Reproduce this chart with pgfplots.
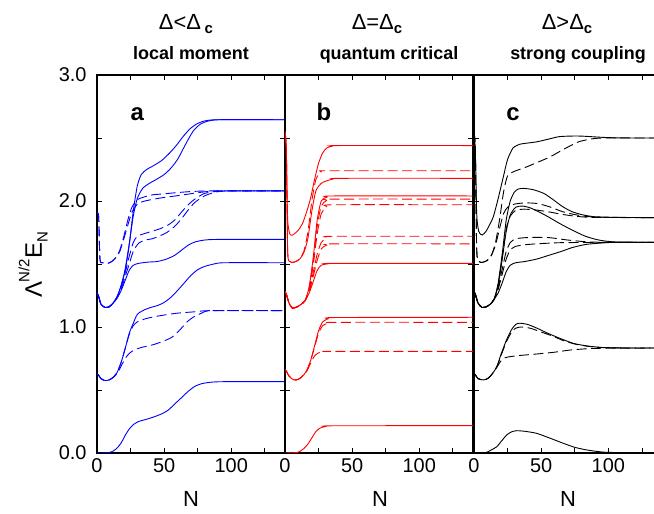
\documentclass[border=0pt]{standalone}
\usepackage{fontspec}
\setmainfont{Liberation Sans}
\usepackage{pgfplots}
\pgfplotsset{compat=1.18}
\begin{document}
\begin{tikzpicture}
\useasboundingbox (-97bp,-61bp) rectangle (557bp,453bp);
\pgfplotsset{
 panel/.style={scale only axis, height=378bp, ymin=0, ymax=3, xmin=0,
   ytick={0,0.5,1,1.5,2,2.5,3}, xtick={0,25,50,75,100,125}, xticklabels={0,,50,,100,},
   tick align=inside, major tick length=5bp, tick style={black, line width=0.8bp},
   axis line style={line width=1.2bp},
   xticklabel style={font=\fontsize{20}{24}\selectfont, yshift=-2bp},
   yticklabel style={font=\fontsize{20}{24}\selectfont, xshift=-7bp},
   every axis plot/.append style={line width=0.9bp, no marks, smooth, tension=0.4},
   anchor=south west,
 },
 dsh/.style={dash pattern=on 10bp off 4.5bp},
}
% ---------------- panel a ----------------
\begin{axis}[panel, width=188bp, xmax=140, at={(0bp,0bp)}, yticklabels={0.0,,1.0,,2.0,,3.0}]
% to 2.64
\addplot[blue] coordinates {(0,1.27)(1,1.25)(3,1.18)(6,1.155)(9,1.16)(12,1.19)(15,1.24)(18,1.33)(21,1.45)(24,1.65)(27,1.92)(30,2.12)(33,2.21)(37,2.25)(42,2.28)(48,2.32)(54,2.38)(59,2.44)(64,2.51)(69,2.57)(74,2.61)(80,2.635)(90,2.645)(140,2.645)};
\addplot[blue] coordinates {(0,1.27)(1,1.25)(3,1.18)(6,1.155)(9,1.16)(12,1.19)(15,1.24)(18,1.33)(21,1.46)(24,1.66)(27,1.88)(30,2.02)(34,2.10)(39,2.14)(44,2.17)(50,2.21)(55,2.26)(60,2.33)(64,2.41)(68,2.49)(72,2.56)(77,2.61)(83,2.635)(92,2.645)(140,2.645)};
% dashed slow to 2.08
\addplot[blue,dsh] coordinates {(0,1.27)(1,1.25)(3,1.18)(6,1.155)(9,1.16)(12,1.19)(15,1.24)(18,1.32)(21,1.43)(24,1.56)(27,1.67)(30,1.72)(35,1.74)(41,1.76)(47,1.78)(53,1.81)(58,1.85)(62,1.90)(67,1.96)(71,2.00)(75,2.03)(80,2.06)(88,2.075)(100,2.08)(140,2.08)};
\addplot[blue,dsh] coordinates {(0,1.27)(1,1.25)(3,1.18)(6,1.155)(9,1.16)(12,1.19)(15,1.23)(18,1.30)(21,1.40)(24,1.50)(27,1.60)(31,1.665)(36,1.69)(41,1.70)(46,1.72)(52,1.75)(58,1.80)(63,1.86)(68,1.93)(73,1.99)(80,2.04)(88,2.07)(98,2.08)(140,2.08)};
% solid to 1.69
\addplot[blue] coordinates {(0,1.27)(1,1.25)(3,1.18)(6,1.155)(9,1.16)(12,1.19)(15,1.23)(18,1.29)(21,1.37)(24,1.45)(27,1.49)(31,1.505)(38,1.515)(45,1.52)(52,1.54)(58,1.57)(63,1.61)(68,1.65)(73,1.675)(80,1.69)(90,1.695)(140,1.695)};
% dashed fast to 2.08
\addplot[blue,dsh] coordinates {(0,1.90)(1.2,1.88)(2.2,1.54)(4,1.51)(8,1.505)(11,1.52)(14,1.55)(17,1.61)(20,1.72)(23,1.85)(26,1.95)(30,2.01)(36,2.035)(42,2.05)(48,2.055)(58,2.065)(70,2.075)(85,2.08)(140,2.08)};
\addplot[blue,dsh] coordinates {(0,1.90)(1.2,1.88)(2.2,1.54)(4,1.51)(8,1.505)(11,1.52)(14,1.55)(17,1.60)(20,1.70)(23,1.81)(26,1.91)(30,1.975)(34,1.995)(40,2.01)(48,2.025)(55,2.035)(65,2.05)(78,2.07)(90,2.08)(140,2.08)};
% solid to 1.51
\addplot[blue] coordinates {(0,0.63)(1,0.62)(3,0.59)(6,0.575)(9,0.58)(12,0.60)(15,0.64)(18,0.72)(21,0.83)(24,0.95)(27,1.03)(30,1.10)(35,1.135)(40,1.155)(45,1.17)(50,1.195)(55,1.235)(60,1.29)(65,1.35)(70,1.41)(75,1.455)(80,1.48)(87,1.50)(95,1.51)(140,1.51)};
% dashed to 1.13
\addplot[blue,dsh] coordinates {(0,0.63)(1,0.62)(3,0.59)(6,0.575)(9,0.58)(12,0.60)(15,0.64)(18,0.72)(21,0.83)(24,0.94)(27,1.01)(30,1.04)(36,1.065)(42,1.08)(50,1.095)(60,1.11)(72,1.12)(85,1.13)(140,1.13)};
\addplot[blue,dsh] coordinates {(0,0.63)(1,0.62)(3,0.59)(6,0.575)(9,0.58)(12,0.60)(15,0.63)(18,0.69)(21,0.75)(24,0.79)(28,0.82)(34,0.84)(42,0.86)(50,0.89)(56,0.92)(62,0.98)(67,1.04)(72,1.08)(78,1.11)(86,1.13)(140,1.13)};
% from zero
\addplot[blue] coordinates {(0,0)(8,0.002)(12,0.015)(15,0.04)(18,0.08)(21,0.14)(24,0.19)(27,0.225)(31,0.25)(36,0.265)(42,0.285)(48,0.31)(53,0.34)(58,0.39)(63,0.44)(68,0.49)(73,0.53)(78,0.55)(85,0.562)(95,0.566)(140,0.566)};
\node[anchor=base, font=\bfseries\fontsize{24}{24}\selectfont] at (axis cs:30,2.64) {a};
\end{axis}
% ---------------- panel b ----------------
\begin{axis}[panel, width=188bp, xmax=140, at={(188bp,0bp)}, yticklabels={}]
\addplot[red] coordinates {(0,2.55)(1,2.4)(2,1.85)(4,1.73)(7,1.74)(10,1.77)(13,1.82)(16,1.91)(19,2.02)(22,2.17)(25,2.30)(28,2.38)(31,2.42)(35,2.435)(40,2.44)(140,2.44)};
\addplot[red,dsh] coordinates {(0,2.55)(1,2.4)(2,1.6)(3.5,1.52)(7,1.515)(11,1.54)(14,1.60)(17,1.75)(20,2.0)(23,2.17)(27,2.235)(32,2.24)(140,2.24)};
\addplot[red] coordinates {(0,2.55)(1,2.4)(2,1.6)(3.5,1.52)(7,1.515)(11,1.54)(14,1.59)(17,1.70)(20,1.92)(23,2.08)(27,2.14)(31,2.16)(36,2.175)(42,2.18)(140,2.18)};
\addplot[red] coordinates {(0,1.28)(1,1.26)(3,1.19)(5.5,1.15)(9,1.16)(12,1.18)(15,1.21)(18,1.32)(21,1.55)(24,1.85)(27,2.0)(31,2.03)(36,2.04)(140,2.04)};
\addplot[red,dsh] coordinates {(0,1.28)(1,1.26)(3,1.19)(5.5,1.15)(9,1.16)(12,1.18)(15,1.21)(18,1.31)(21,1.52)(24,1.80)(27,1.96)(31,2.005)(36,2.015)(140,2.015)};
\addplot[red,dsh] coordinates {(0,1.28)(1,1.26)(3,1.19)(5.5,1.15)(9,1.16)(12,1.18)(15,1.21)(18,1.30)(21,1.49)(24,1.74)(27,1.90)(31,1.955)(36,1.97)(140,1.97)};
\addplot[red,dsh] coordinates {(0,1.28)(1,1.26)(3,1.19)(5.5,1.15)(9,1.16)(12,1.18)(15,1.21)(18,1.29)(21,1.43)(24,1.58)(27,1.67)(31,1.71)(36,1.72)(140,1.72)};
\addplot[red,dsh] coordinates {(0,1.28)(1,1.26)(3,1.19)(5.5,1.15)(9,1.16)(12,1.18)(15,1.21)(18,1.28)(21,1.40)(24,1.53)(27,1.62)(31,1.65)(36,1.66)(140,1.66)};
\addplot[red] coordinates {(0,1.28)(1,1.26)(3,1.19)(5.5,1.15)(9,1.16)(12,1.18)(15,1.21)(18,1.27)(21,1.36)(24,1.45)(27,1.49)(31,1.50)(36,1.505)(140,1.505)};
\addplot[red] coordinates {(0,0.66)(1,0.65)(3,0.61)(6.5,0.58)(10,0.585)(13,0.61)(16,0.65)(19,0.73)(22,0.85)(25,0.97)(28,1.04)(32,1.065)(37,1.075)(140,1.077)};
\addplot[red,dsh] coordinates {(0,0.66)(1,0.65)(3,0.61)(6.5,0.58)(10,0.585)(13,0.61)(16,0.65)(19,0.73)(22,0.84)(25,0.95)(28,1.01)(32,1.03)(37,1.037)(140,1.037)};
\addplot[red,dsh] coordinates {(0,0.66)(1,0.65)(3,0.61)(6.5,0.58)(10,0.585)(13,0.61)(16,0.645)(19,0.71)(22,0.77)(25,0.795)(29,0.805)(35,0.807)(140,0.807)};
\addplot[red] coordinates {(0,0)(8,0.003)(11,0.012)(14,0.035)(17,0.07)(20,0.12)(23,0.17)(26,0.197)(30,0.21)(36,0.216)(140,0.217)};
\node[anchor=base, font=\bfseries\fontsize{24}{24}\selectfont] at (axis cs:29,2.64) {b};
\end{axis}
% ---------------- panel c ----------------
\begin{axis}[panel, width=180bp, xmax=134, at={(377bp,0bp)}, yticklabels={},
  axis y line*=left, axis x line*=box, xtick pos=both, ytick pos=left, tick align=inside]
\addplot[black] coordinates {(0,2.55)(1,2.4)(2,1.9)(3.5,1.76)(6,1.73)(9,1.76)(12,1.82)(14.4,1.875)(18,2.02)(21.8,2.19)(25,2.33)(29,2.42)(34,2.45)(40,2.46)(47,2.47)(55,2.49)(63,2.51)(71,2.515)(80,2.515)(96,2.505)(110,2.50)(134,2.50)};
\addplot[black,dsh] coordinates {(0,2.55)(1,2.4)(2,1.62)(3.5,1.52)(7,1.515)(10,1.53)(13,1.57)(16,1.67)(19,1.85)(22,2.07)(25,2.20)(30,2.235)(39,2.27)(48,2.31)(56.6,2.35)(65,2.40)(72,2.44)(78,2.47)(86,2.49)(96,2.50)(134,2.50)};
\addplot[black] coordinates {(0,1.28)(1,1.26)(3,1.19)(6,1.155)(9,1.16)(12,1.18)(15,1.22)(18,1.35)(21,1.58)(24,1.85)(27,2.0)(30,2.07)(33,2.095)(37,2.10)(44,2.09)(52,2.06)(59,2.01)(66,1.955)(73,1.915)(81,1.89)(90,1.875)(108,1.87)(134,1.868)};
\addplot[black,dsh] coordinates {(0,2.55)(1,2.4)(2,1.62)(3.5,1.52)(7,1.515)(10,1.53)(13,1.57)(16,1.65)(19,1.78)(22,1.90)(25,1.95)(30,1.975)(38,1.985)(47,1.98)(56,1.955)(66,1.915)(76,1.89)(86,1.875)(100,1.87)(134,1.868)};
\addplot[black,dsh] coordinates {(0,1.28)(1,1.26)(3,1.19)(6,1.155)(9,1.16)(12,1.18)(15,1.22)(18,1.33)(21,1.55)(24,1.78)(27,1.88)(31,1.925)(37,1.935)(45,1.93)(55,1.915)(65,1.895)(75,1.88)(88,1.87)(134,1.868)};
\addplot[black] coordinates {(0,1.28)(1,1.26)(3,1.19)(6,1.155)(9,1.16)(12,1.18)(15,1.22)(18,1.33)(21,1.54)(24,1.76)(27,1.89)(31,1.95)(36,1.96)(42,1.945)(49,1.91)(56,1.87)(64,1.82)(73,1.77)(83,1.72)(93,1.69)(105,1.675)(134,1.672)};
\addplot[black,dsh] coordinates {(0,1.28)(1,1.26)(3,1.19)(6,1.155)(9,1.16)(12,1.18)(15,1.22)(18,1.31)(21,1.46)(24,1.60)(27,1.67)(31,1.70)(40,1.71)(55,1.71)(70,1.69)(85,1.675)(100,1.672)(134,1.672)};
\addplot[black,dsh] coordinates {(0,1.28)(1,1.26)(3,1.19)(6,1.155)(9,1.16)(12,1.18)(15,1.22)(18,1.30)(21,1.42)(24,1.54)(27,1.61)(31,1.64)(40,1.655)(55,1.665)(70,1.67)(134,1.672)};
\addplot[black] coordinates {(0,1.28)(1,1.26)(3,1.19)(6,1.155)(9,1.16)(12,1.18)(15,1.22)(18,1.27)(21,1.35)(24,1.44)(27,1.49)(31,1.51)(38,1.52)(47,1.54)(56,1.57)(65,1.60)(73,1.63)(83,1.655)(93,1.665)(105,1.672)(134,1.672)};
\addplot[black] coordinates {(0,0.63)(1,0.62)(3,0.59)(7,0.58)(10,0.59)(13,0.62)(17,0.685)(20,0.78)(24.3,0.90)(28,0.98)(31,1.02)(34,1.03)(40,1.02)(47,0.99)(55,0.95)(64,0.91)(74,0.87)(84,0.85)(95,0.838)(110,0.834)(134,0.833)};
\addplot[black,dsh] coordinates {(0,0.63)(1,0.62)(3,0.59)(7,0.58)(10,0.59)(13,0.62)(17,0.685)(20,0.77)(24,0.88)(28,0.96)(31,0.99)(35,1.0)(42,0.99)(50,0.96)(58,0.93)(67,0.89)(77,0.86)(90,0.84)(105,0.834)(134,0.833)};
\addplot[black,dsh] coordinates {(0,0.63)(1,0.62)(3,0.59)(7,0.58)(10,0.59)(13,0.62)(17,0.68)(20,0.73)(23,0.755)(27,0.765)(35,0.775)(47,0.786)(60,0.80)(71.5,0.817)(85,0.828)(100,0.832)(134,0.833)};
\addplot[black] coordinates {(0,0)(7,0.0)(10,0.008)(13,0.025)(17,0.05)(20.5,0.095)(24.3,0.143)(28,0.168)(31.8,0.177)(38,0.172)(46.7,0.156)(56,0.12)(66.5,0.077)(75,0.045)(84,0.024)(92,0.012)(100,0.005)(134,0.0)};
\node[anchor=base, font=\bfseries\fontsize{24}{24}\selectfont] at (axis cs:29,2.64) {c};
\end{axis}
% ---------------- labels ----------------
\node[rotate=90, font=\fontsize{24}{28}\selectfont] at (-64bp,188bp) {Λ\raisebox{1.0ex}{\fontsize{15}{15}\selectfont N/2}E\raisebox{-0.45ex}{\fontsize{15}{15}\selectfont N}};
\foreach \xx in {94,283,471} {\node[anchor=base, font=\fontsize{22}{26}\selectfont] at (\xx bp,-53.7bp) {N};}
\node[anchor=base, font=\fontsize{22}{26}\selectfont] at (89bp,423.7bp) {Δ<Δ\,\raisebox{-0.35ex}{\bfseries\fontsize{15}{15}\selectfont c}};
\node[anchor=base, font=\fontsize{22}{26}\selectfont] at (280bp,423.7bp) {Δ=Δ\raisebox{-0.35ex}{\bfseries\fontsize{15}{15}\selectfont c}};
\node[anchor=base, font=\fontsize{22}{26}\selectfont] at (470bp,423.7bp) {Δ>Δ\raisebox{-0.35ex}{\bfseries\fontsize{15}{15}\selectfont c}};
\node[anchor=base, font=\bfseries\fontsize{18}{22}\selectfont] at (94bp,393bp) {local moment};
\node[anchor=base, font=\bfseries\fontsize{18}{22}\selectfont] at (292bp,393bp) {quantum critical};
\node[anchor=base, font=\bfseries\fontsize{18}{22}\selectfont] at (481bp,393bp) {strong coupling};
\end{tikzpicture}
\end{document}
